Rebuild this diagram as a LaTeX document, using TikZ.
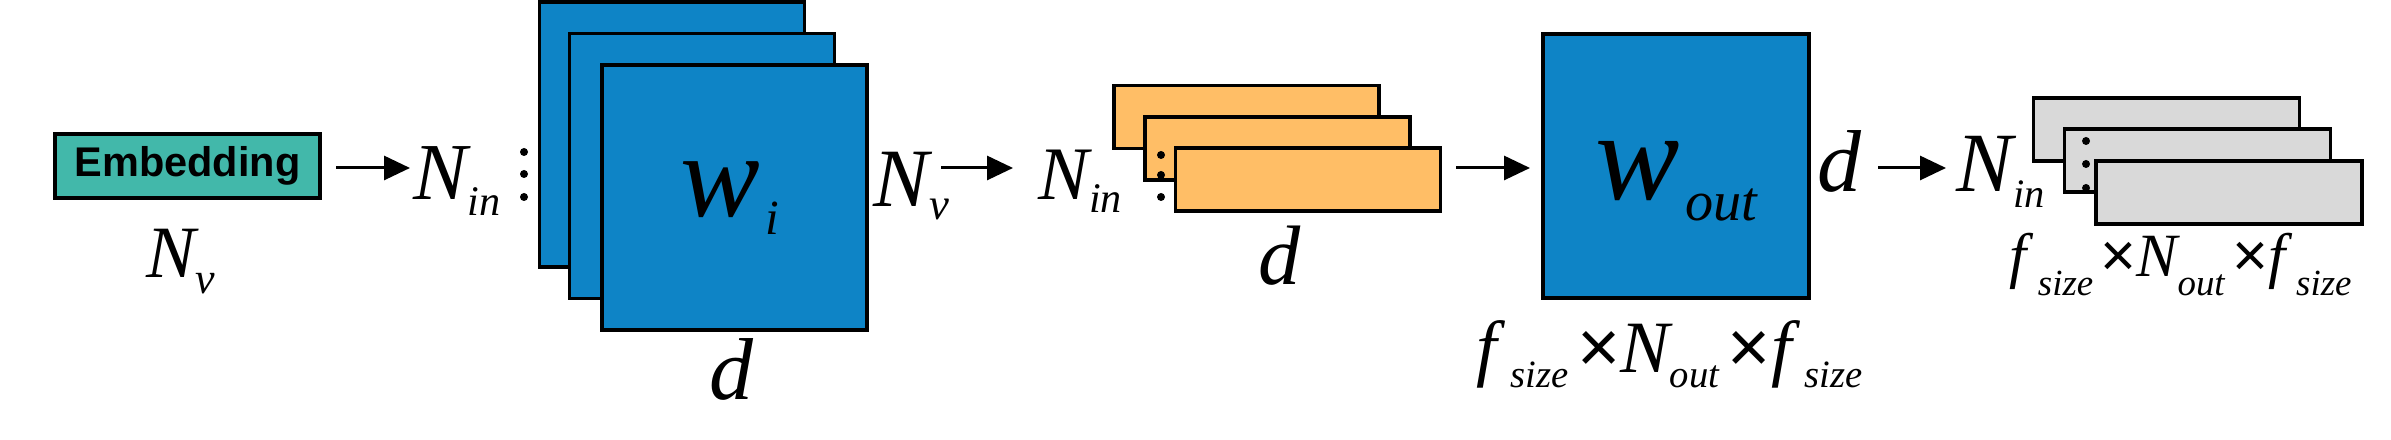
\documentclass[tikz,border=0pt]{standalone}
\usepackage{fontspec}
\setmainfont{Liberation Serif}
\newfontfamily\arialfont{Liberation Sans}
\usetikzlibrary{arrows.meta}
\definecolor{wblue}{RGB}{14,132,198}
\definecolor{embteal}{RGB}{66,184,170}
\definecolor{featorange}{RGB}{255,190,102}
\definecolor{outgray}{RGB}{217,217,217}
\newcommand{\fs}[1]{\fontsize{#1pt}{#1pt}\selectfont}
\newcommand{\symsub}[5]{{\fs{#1}#2}\raisebox{-#5pt}{\fs{#3}#4}}
\newcommand{\tx}[1]{{\upshape\arialfont\fs{#1}\kern0.12em×}}
\newcommand{\fk}{f\kern0.18em}
\tikzset{
  mat/.style={draw, line width=0.033cm, inner sep=0pt, outer sep=0pt},
  arr/.style={line width=0.03cm, -{Triangle[length=0.26cm,width=0.24cm]}},
  dot/.style={circle, fill=black, inner sep=0pt, minimum size=0.08cm},
  lbl/.style={inner sep=0pt, anchor=base west, font=\itshape}
}

\begin{document}
\begin{tikzpicture}
\useasboundingbox (0,0) rectangle (23.91,4.40);
% arrow ends
\coordinate (a1s) at (3.36,2.72);
\coordinate (a1e) at (4.10,2.72);
\coordinate (a2s) at (9.41,2.72);
\coordinate (a2e) at (10.13,2.72);
\coordinate (a3s) at (14.56,2.72);
\coordinate (a3e) at (15.30,2.72);
\coordinate (a4s) at (18.78,2.72);
\coordinate (a4e) at (19.46,2.72);
% embedding
\node[mat, fill=embteal, minimum width=2.65cm, minimum height=0.64cm, font=\arialfont\bfseries\fs{11.8}] (emb) at (1.875,2.74) {Embedding};
\node[lbl] (nv1) at (1.46,1.62) {\symsub{21}{N}{12.5}{v}{4.3}};
% input weights
\node[lbl] (nin1) at (4.13,2.40) {\symsub{23}{N}{12}{in}{4.5}};
\node[dot] (d1a) at (5.24,2.88) {};
\node[dot] (d1b) at (5.24,2.66) {};
\node[dot] (d1c) at (5.24,2.43) {};
\node[mat, fill=wblue, minimum width=2.65cm, minimum height=2.65cm] (wi1) at (6.72,3.055) {};
\node[mat, fill=wblue, minimum width=2.65cm, minimum height=2.65cm] (wi2) at (7.02,2.74) {};
\node[mat, fill=wblue, minimum width=2.65cm, minimum height=2.65cm] (wi3) at (7.345,2.425) {};
\node[lbl] (wilab) at (6.80,2.23) {\symsub{34}{w}{14}{\kern0.1em i}{5.1}};
\node[lbl] (dlab1) at (7.09,0.40) {\fs{25}d};
\node[lbl] (nv2) at (8.73,2.33) {\symsub{23.6}{N}{12.7}{v}{3.7}};
% features
\node[lbl] (nin2) at (10.38,2.40) {\symsub{21.5}{N}{12}{in}{3.7}};
\node[mat, fill=featorange, minimum width=2.65cm, minimum height=0.63cm] (ft1) at (12.465,3.23) {};
\node[mat, fill=featorange, minimum width=2.65cm, minimum height=0.63cm] (ft2) at (12.775,2.915) {};
\node[mat, fill=featorange, minimum width=2.65cm, minimum height=0.63cm] (ft3) at (13.08,2.605) {};
\node[dot] (d2a) at (11.61,2.85) {};
\node[dot] (d2b) at (11.61,2.65) {};
\node[dot] (d2c) at (11.61,2.43) {};
\node[lbl] (dlab2) at (12.58,1.55) {\fs{24}d};
% output weights
\node[mat, fill=wblue, minimum width=2.66cm, minimum height=2.64cm] (wout) at (16.76,2.74) {};
\node[lbl] (woutlab) at (15.95,2.40) {\symsub{36}{w}{16}{\kern0.1em out}{5.7}};
\node[lbl] (wdim) at (14.76,0.67) {\symsub{21}{\fk}{11}{size}{4}\tx{21}\symsub{21}{N}{11}{out}{4}\tx{21}\symsub{21}{\fk}{11}{size}{4}};
\node[lbl] (dlab3) at (18.17,2.48) {\fs{25}d};
% output
\node[lbl] (nin3) at (19.56,2.48) {\symsub{24}{N}{11.5}{in}{4.3}};
\node[mat, fill=outgray, minimum width=2.66cm, minimum height=0.63cm] (out1) at (21.665,3.105) {};
\node[mat, fill=outgray, minimum width=2.66cm, minimum height=0.63cm] (out2) at (21.975,2.795) {};
\node[mat, fill=outgray, minimum width=2.66cm, minimum height=0.63cm] (out3) at (22.29,2.475) {};
\node[dot] (d3a) at (20.86,2.99) {};
\node[dot] (d3b) at (20.86,2.76) {};
\node[dot] (d3c) at (20.86,2.52) {};
\node[lbl] (odim) at (20.09,1.63) {\symsub{17.5}{\fk}{10.5}{size}{5.2}\tx{17.5}\symsub{17.5}{N}{10.5}{out}{5.2}\tx{17.5}\symsub{17.5}{\fk}{10.5}{size}{5.2}};
% draws arrows
\draw[arr] (a1s) -- (a1e);
\draw[arr] (a2s) -- (a2e);
\draw[arr] (a3s) -- (a3e);
\draw[arr] (a4s) -- (a4e);
\end{tikzpicture}
\end{document}
